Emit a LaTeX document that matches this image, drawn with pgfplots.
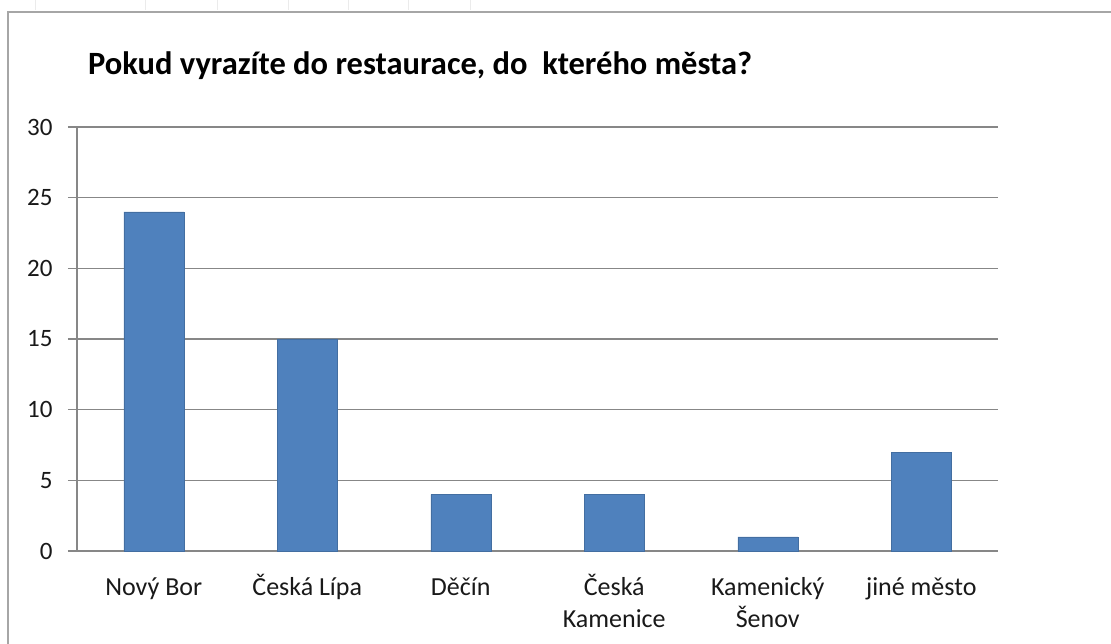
\documentclass[border=0pt]{standalone}
\usepackage{pgfplots}
\pgfplotsset{compat=1.18}
\usepackage{fontspec}
\setmainfont{Carlito}
\definecolor{barblue}{HTML}{4F81BD}
\definecolor{gridgray}{HTML}{878787}
\definecolor{framegray}{HTML}{A6A6A6}
\newcommand{\st}{\rule{0pt}{24pt}}
\begin{document}
\begin{tikzpicture}[x=1pt,y=1pt]
\useasboundingbox (0,0) rectangle (1111,644);
% outer frame (partially visible)
\draw[framegray, line width=1.5pt] (8,0) -- (8,632) -- (1111,632);
\foreach \xx in {35,145,217,288,348,408,470} {
  \draw[black!8, line width=0.8pt] (\xx,634) -- (\xx,644);
}
\node[anchor=base west, font=\fontsize{32.5}{36}\selectfont\bfseries, inner sep=0pt]
  at (88,569) {Pokud vyrazíte do restaurace, do\ \ kterého města?};
\begin{axis}[
  at={(77pt,93pt)}, anchor=south west,
  scale only axis, width=921pt, height=424pt,
  xmin=-0.5, xmax=5.5, ymin=0, ymax=30,
  axis x line*=bottom, axis y line*=left,
  axis line style={gridgray, line width=1.2pt, -},
  ytick={0,5,...,30},
  ymajorgrids, grid style={gridgray, line width=1.2pt},
  tick align=outside,
  major tick length=9pt,
  y tick style={gridgray, line width=1.2pt},
  xtick={0,...,5},
  x tick style={draw=none},
  xticklabels={\st Nový Bor, \st Česká Lípa, \st Děčín, \st Česká\\Kamenice, \st Kamenický\\Šenov, \st jiné město},
  xticklabel style={align=center, font=\fontsize{26}{32}\selectfont, text=black!90, anchor=north, yshift=-8pt},
  yticklabel style={font=\fontsize{25}{28}\selectfont, text=black!90, xshift=-12pt},
  /pgf/number format/assume math mode=true,
  extra x ticks={-0.5,0.5,1.5,2.5,3.5,4.5,5.5},
  extra x tick labels={},
  extra x tick style={grid=none, major tick length=9pt, tick style={draw=gridgray, line width=1.2pt}},
  ybar, bar width=60pt,
  clip=false,
]
\addplot[fill=barblue, draw=barblue!85!black, line width=0.5pt] coordinates {(0,24) (1,15) (2,4) (3,4) (4,1) (5,7)};
\end{axis}
\end{tikzpicture}
\end{document}
